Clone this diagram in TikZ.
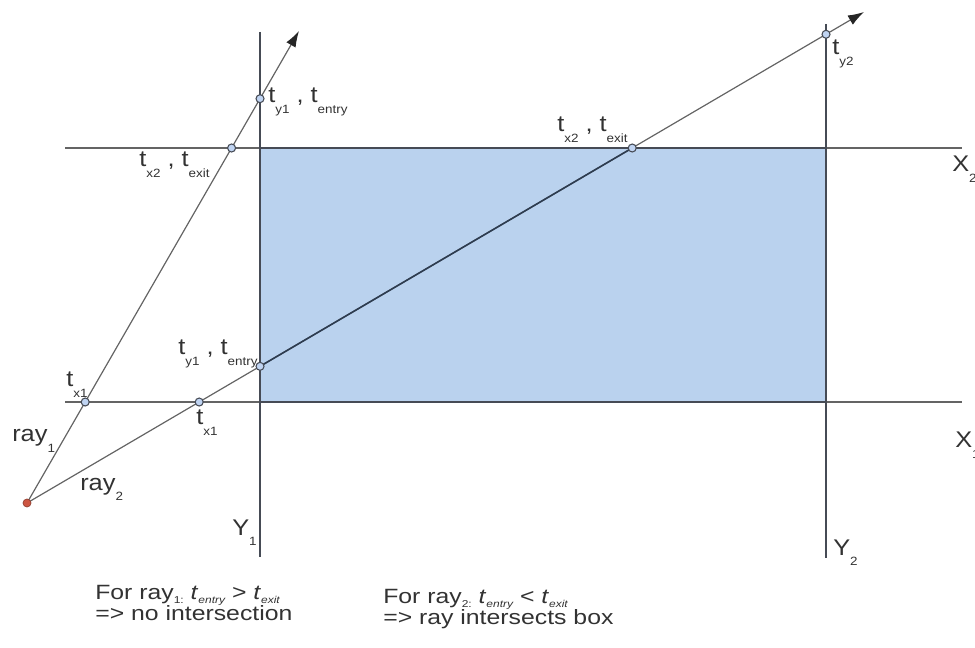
\documentclass[tikz,border=0pt]{standalone}
\usepackage{fontspec}
\setmainfont{Liberation Sans}[FakeStretch=1.12]
\newfontfamily\notefont{Liberation Sans}[FakeStretch=1.2]
\usetikzlibrary{arrows.meta}
\definecolor{boxblue}{RGB}{186,210,238}
\definecolor{ptblue}{RGB}{192,212,242}
\definecolor{txt}{RGB}{50,50,50}
\definecolor{ln}{RGB}{100,100,100}
\definecolor{edge}{RGB}{70,75,85}
\definecolor{inray}{RGB}{45,60,80}
\definecolor{redpt}{RGB}{205,85,65}
\newcommand{\lsub}[1]{\raisebox{-0.45em}{\fontsize{9}{9}\selectfont #1}}
\newcommand{\nsub}[1]{\raisebox{-0.22em}{\fontsize{7.5}{7.5}\selectfont #1}}
\begin{document}
\begin{tikzpicture}[x=0.75pt,y=-0.75pt,
  lbl/.style={anchor=base west, inner sep=0pt, text=txt, font=\fontsize{17}{17}\selectfont},
  note/.style={anchor=base west, inner sep=0pt, text=txt, font=\notefont\fontsize{15.5}{18}\selectfont},
  axisline/.style={draw=ln, line width=0.9pt},
  rayline/.style={draw=ln, line width=0.9pt, -{Latex[length=12pt,width=8pt,color=black!85,fill=black!85]}},
  hit/.style={circle, draw=edge, fill=ptblue, inner sep=0pt, minimum size=6pt, line width=0.8pt},
  src/.style={circle, fill=redpt, draw=redpt!70!black, inner sep=0pt, minimum size=6pt, line width=0.5pt}]
\useasboundingbox (0,0) rectangle (975,648);
% box
\fill[boxblue] (260,148) rectangle (826,402);
% axis lines
\coordinate (x2a) at (65,148);  \coordinate (x2b) at (962,148);
\coordinate (x1a) at (65,402);  \coordinate (x1b) at (962,402);
\coordinate (y1a) at (260,32);  \coordinate (y1b) at (260,557);
\coordinate (y2a) at (826,24);  \coordinate (y2b) at (826,558);
\draw[axisline] (x2a) -- (x2b);
\draw[axisline] (x1a) -- (x1b);
\draw[axisline, draw=edge] (y1a) -- (y1b);
\draw[axisline, draw=edge] (y2a) -- (y2b);
\draw[draw=edge, line width=0.9pt] (260,148) -- (826,148) (260,402) -- (826,402);
% rays
\coordinate (o) at (27,503);
\coordinate (t1) at (299,31);
\coordinate (t2) at (864,12);
\draw[rayline] (o) -- (t1);
\draw[rayline] (o) -- (t2);
% intersection points
\coordinate (p1) at (intersection of o--t1 and x1a--x1b);
\coordinate (p2) at (intersection of o--t1 and x2a--x2b);
\coordinate (p3) at (intersection of o--t1 and y1a--y1b);
\coordinate (q1) at (intersection of o--t2 and x1a--x1b);
\coordinate (q2) at (intersection of o--t2 and y1a--y1b);
\coordinate (q3) at (intersection of o--t2 and x2a--x2b);
\coordinate (q4) at (intersection of o--t2 and y2a--y2b);
\draw[draw=inray, line width=1.2pt] (q2) -- (q3);
\node[hit] (h1) at (p1) {};
\node[hit] (h2) at (p2) {};
\node[hit] (h3) at (p3) {};
\node[hit] (k1) at (q1) {};
\node[hit] (k2) at (q2) {};
\node[hit] (k3) at (q3) {};
\node[hit] (k4) at (q4) {};
\node[src] (so) at (o) {};
% labels
\node[lbl] (l1) at (268,103) {t\lsub{y1} , t\lsub{entry}};
\node[lbl] (l2) at (139,167) {t\lsub{x2} , t\lsub{exit}};
\node[lbl] (l3) at (66,387) {t\lsub{x1}};
\node[lbl] (l4) at (196,425) {t\lsub{x1}};
\node[lbl] (l5) at (178,355) {t\lsub{y1} , t\lsub{entry}};
\node[lbl] (l6) at (557,132) {t\lsub{x2} , t\lsub{exit}};
\node[lbl] (l7) at (832,55) {t\lsub{y2}};
\node[lbl] (ax2) at (952,172) {X\lsub{2}};
\node[lbl] (ax1) at (955,448) {X\lsub{1}};
\node[lbl] (ay1) at (232,535) {Y\lsub{1}};
\node[lbl] (ay2) at (833,555) {Y\lsub{2}};
\node[lbl] (r1) at (12,442) {ray\lsub{1}};
\node[lbl] (r2) at (80,490) {ray\lsub{2}};
% notes
\node[note] (n1) at (95,599) {For ray\nsub{1:} \textit{t}\nsub{\itshape entry} > \textit{t}\nsub{\itshape exit}};
\node[note] (n2) at (95,620) {=> no intersection};
\node[note] (n3) at (383,603) {For ray\nsub{2:} \textit{t}\nsub{\itshape entry} < \textit{t}\nsub{\itshape exit}};
\node[note] (n4) at (383,624) {=> ray intersects box};
\end{tikzpicture}
\end{document}
